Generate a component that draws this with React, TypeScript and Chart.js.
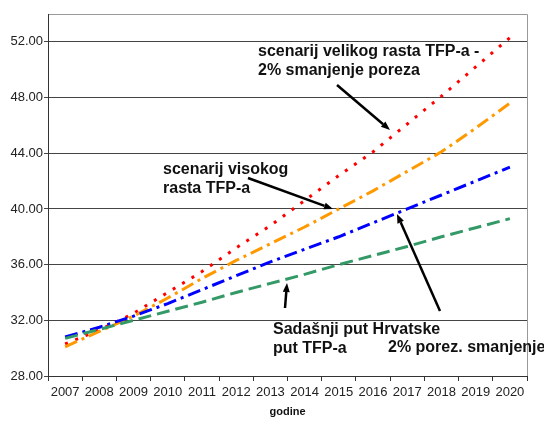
import React, { useEffect, useRef } from "react";
import { Chart, registerables } from "chart.js";

Chart.register(...registerables);

const years = ["2007","2008","2009","2010","2011","2012","2013","2014","2015","2016","2017","2018","2019","2020"];
const redSeries = [30.3, 31.3, 32.5, 34.0, 35.5, 37.2, 38.8, 40.6, 42.4, 44.1, 46.1, 48.1, 50.2, 52.3];
const orangeSeries = [30.1, 31.2, 32.3, 33.6, 35.0, 36.3, 37.5, 38.7, 40.0, 41.3, 42.7, 44.1, 45.8, 47.6];
const blueSeries = [30.8, 31.5, 32.3, 33.2, 34.2, 35.2, 36.2, 37.1, 38.0, 39.0, 40.0, 41.0, 42.0, 43.0];
const greenSeries = [30.7, 31.35, 32.0, 32.65, 33.3, 34.0, 34.65, 35.3, 36.0, 36.65, 37.3, 38.0, 38.65, 39.3];
const yMin = 28;
const yMax = 54;
const yStep = 4;
const xTitle = "godine";

const notes = [
  { lines: ["scenarij velikog rasta TFP-a -", "2% smanjenje poreza"], x: 258, y: 52 },
  { lines: ["scenarij visokog", "rasta TFP-a"], x: 163, y: 170 },
  { lines: ["Sadašnji put Hrvatske", "put TFP-a"], x: 273, y: 330 },
  { lines: ["2% porez. smanjenje"], x: 388, y: 348 },
];
const arrows = [
  { x1: 337, y1: 85, x2: 390, y2: 130 },
  { x1: 248, y1: 178, x2: 333, y2: 209 },
  { x1: 285, y1: 308, x2: 287, y2: 283 },
  { x1: 440, y1: 311, x2: 397, y2: 214 },
];

const overlay = {
  id: "overlay",
  afterDraw(chart: any) {
    const { ctx, chartArea } = chart;
    ctx.save();
    ctx.lineWidth = 1;
    ctx.strokeStyle = "#999";
    ctx.beginPath();
    ctx.moveTo(chartArea.left, chartArea.top + 0.5);
    ctx.lineTo(chartArea.right + 0.5, chartArea.top + 0.5);
    ctx.lineTo(chartArea.right + 0.5, chartArea.bottom);
    ctx.stroke();
    ctx.strokeStyle = "#333";
    ctx.beginPath();
    ctx.moveTo(chartArea.left + 0.5, chartArea.top);
    ctx.lineTo(chartArea.left + 0.5, chartArea.bottom);
    ctx.stroke();
    ctx.fillStyle = "#111";
    ctx.font = "bold 16px Arial, 'Liberation Sans', sans-serif";
    ctx.textBaseline = "middle";
    ctx.textAlign = "left";
    for (const n of notes) {
      n.lines.forEach((l, i) => ctx.fillText(l, n.x, n.y + i * 19));
    }
    ctx.strokeStyle = "#000";
    ctx.fillStyle = "#000";
    ctx.lineWidth = 2.5;
    for (const a of arrows) {
      const ang = Math.atan2(a.y2 - a.y1, a.x2 - a.x1);
      const hl = 9;
      const bx = a.x2 - Math.cos(ang) * hl;
      const by = a.y2 - Math.sin(ang) * hl;
      ctx.beginPath();
      ctx.moveTo(a.x1, a.y1);
      ctx.lineTo(bx, by);
      ctx.stroke();
      ctx.beginPath();
      ctx.moveTo(a.x2, a.y2);
      ctx.lineTo(bx + Math.cos(ang + Math.PI / 2) * 3.5, by + Math.sin(ang + Math.PI / 2) * 3.5);
      ctx.lineTo(bx - Math.cos(ang + Math.PI / 2) * 3.5, by - Math.sin(ang + Math.PI / 2) * 3.5);
      ctx.closePath();
      ctx.fill();
    }
    ctx.fillStyle = "#111";
    ctx.font = "bold 11px Arial, 'Liberation Sans', sans-serif";
    ctx.textAlign = "center";
    ctx.fillText(xTitle, (chartArea.left + chartArea.right) / 2, 412);
    ctx.restore();
  },
};

export default function App() {
  const ref = useRef<HTMLCanvasElement>(null);
  useEffect(() => {
    document.body.style.margin = "0";
    const mk = (data: number[], color: string, dash: number[]) => ({
      data,
      borderColor: color,
      backgroundColor: color,
      borderWidth: 3,
      borderDash: dash,
      pointRadius: 0,
      tension: 0,
      fill: false,
    });
    const chart = new Chart(ref.current!, {
      type: "line",
      data: {
        labels: years,
        datasets: [
          mk(greenSeries, "#339966", [13, 6]),
          mk(blueSeries, "#0000FF", [13, 5, 3, 5]),
          mk(orangeSeries, "#FF9900", [13, 5, 3, 5]),
          mk(redSeries, "#FF0000", [3, 8]),
        ],
      },
      options: {
        animation: false,
        responsive: false,
        layout: { padding: { top: 14, right: 17, left: 0, bottom: 0 } },
        plugins: { legend: { display: false }, tooltip: { enabled: false } },
        scales: {
          x: {
            type: "category",
            offset: true,
            grid: { offset: true, drawOnChartArea: false, color: "#333", tickLength: 5 },
            border: { color: "#333" },
            ticks: { color: "#222", font: { family: "Arial, 'Liberation Sans'", size: 13 }, padding: 4, maxRotation: 0, autoSkip: false },
            afterFit(s: any) { s.height = 48; },
          },
          y: {
            min: yMin,
            max: yMax,
            grid: { color: "#444", tickLength: 4 },
            border: { color: "#333" },
            ticks: {
              stepSize: yStep,
              color: "#222",
              font: { family: "Arial, 'Liberation Sans'", size: 13 },
              padding: 1,
              callback: (v: any) => Number(v).toFixed(2),
            },
            afterBuildTicks(s: any) { s.ticks = s.ticks.filter((t: any) => t.value <= 52); },
            afterFit(s: any) { s.width = 48; },
          },
        },
      },
      plugins: [overlay],
    });
    return () => chart.destroy();
  }, []);
  return <canvas ref={ref} width={544} height={424} style={{ display: "block" }} />;
}
